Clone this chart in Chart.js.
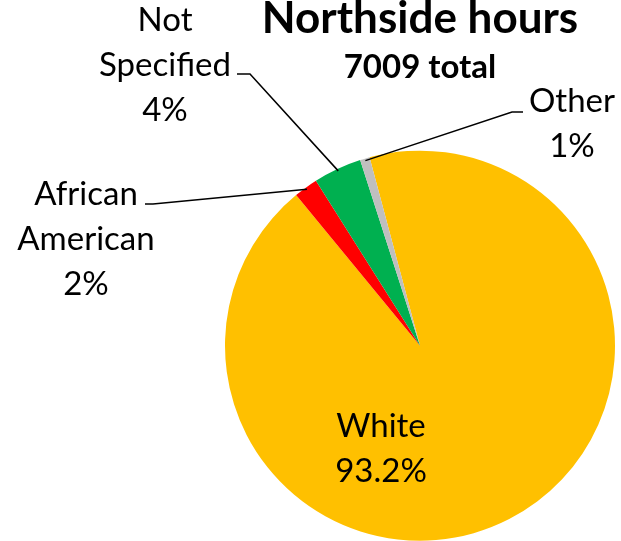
<!DOCTYPE html>
<html>
<head>
<meta charset="utf-8">
<script src="https://cdn.jsdelivr.net/npm/chart.js@4"></script>
<style>
  html, body { margin: 0; padding: 0; background: #fff; }
  #wrap { width: 621px; height: 541px; }
</style>
</head>
<body>
<div id="wrap"><canvas id="pie" width="621" height="541"></canvas></div>
<script>
const categories = ['White', 'African American', 'Not Specified', 'Other'];
const hours = [6533, 140, 280, 56];
const sliceColors = ['#FFC000', '#FF0000', '#00B050', '#BFBFBF'];
const pctDecimals = [1, 0, 0, 0];

// where each data label sits (centre x, first baseline) and its leader-line elbow
const labelSpots = [
  { x: 381, y: 437, inside: true },
  { x: 86, y: 205, lineFrom: [145, 204], elbow: [153, 204] },
  { x: 165, y: 31, lineFrom: [237, 74], elbow: [250, 74] },
  { x: 572, y: 112, lineFrom: [523, 112], elbow: [512, 112] },
];

const labelFont = '33px Lato';
const lineGap = 45;

const total = hours.reduce((a, b) => a + b, 0);

const pieLabels = {
  id: 'pieLabels',
  afterDatasetsDraw(chart) {
    const ctx = chart.ctx;
    const meta = chart.getDatasetMeta(0);
    ctx.save();
    meta.data.forEach((arc, i) => {
      const spot = labelSpots[i];
      const p = arc.getProps(['x', 'y', 'startAngle', 'endAngle', 'outerRadius'], true);
      const mid = (p.startAngle + p.endAngle) / 2;
      const ex = p.x + Math.cos(mid) * (p.outerRadius - 2);
      const ey = p.y + Math.sin(mid) * (p.outerRadius - 2);

      if (!spot.inside) {
        ctx.strokeStyle = '#000';
        ctx.lineWidth = 1.5;
        ctx.beginPath();
        ctx.moveTo(spot.lineFrom[0], spot.lineFrom[1]);
        ctx.lineTo(spot.elbow[0], spot.elbow[1]);
        ctx.lineTo(ex, ey);
        ctx.stroke();
      }

      const pct = (hours[i] / total * 100).toFixed(pctDecimals[i]) + '%';
      const lines = categories[i].split(' ').concat([pct]);
      ctx.fillStyle = '#000';
      ctx.font = labelFont;
      ctx.textAlign = 'center';
      ctx.textBaseline = 'alphabetic';
      lines.forEach((t, k) => {
        ctx.fillText(t, spot.x, spot.y + k * lineGap);
      });
    });
    ctx.restore();
  }
};

new Chart(document.getElementById('pie'), {
  type: 'pie',
  data: {
    labels: categories,
    datasets: [{
      data: hours,
      backgroundColor: sliceColors,
      borderWidth: 0,
    }],
  },
  options: {
    responsive: false,
    animation: false,
    rotation: -15,
    layout: {
      padding: { left: 225, right: 6, top: 0, bottom: 0 }
    },
    plugins: {
      legend: { display: false },
      tooltip: { enabled: false },
      title: {
        display: true,
        text: 'Northside hours',
        color: '#000',
        font: { family: 'Lato', size: 44, weight: 'bold', lineHeight: 0.85 },
        padding: { top: 0, bottom: 0 }
      },
      subtitle: {
        display: true,
        text: '7009 total',
        color: '#000',
        font: { family: 'Lato', size: 33, weight: 'bold', lineHeight: 1 },
        padding: { top: 13, bottom: 67 }
      }
    }
  },
  plugins: [pieLabels]
});
</script>
</body>
</html>
